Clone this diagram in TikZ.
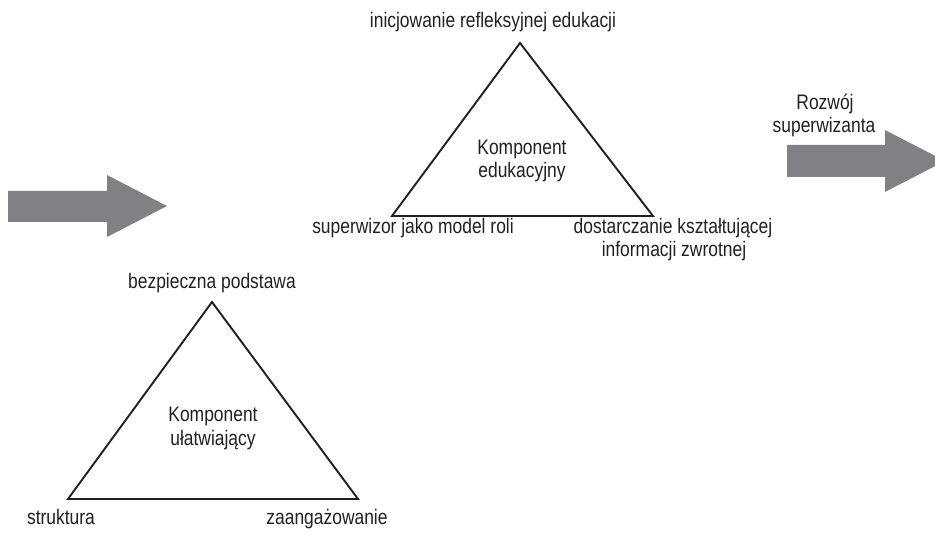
\documentclass[tikz,border=0pt]{standalone}
\usepackage{fontspec}
\setmainfont[FakeStretch=0.83]{Liberation Sans}
\definecolor{arrowgray}{RGB}{128,129,132}
\definecolor{txt}{RGB}{35,31,32}
\begin{document}
\begin{tikzpicture}[x=1pt,y=-1pt,
  lbl/.style={anchor=base,inner sep=0pt,font=\fontsize{21}{24}\selectfont,text=txt,align=center},
  tri/.style={draw=txt,line width=1.9pt,line join=miter},
  bigarrow/.style={fill=arrowgray,draw=none}]
\useasboundingbox (0,0) rectangle (935,534);
\clip (0,0) rectangle (935,534);
% top triangle
\coordinate (ta) at (520,43);
\coordinate (tl) at (392,216);
\coordinate (tr) at (653,216);
\draw[tri] (ta) -- (tl) -- (tr) -- cycle;
\node[lbl] (t1) at (493,27.5) {inicjowanie refleksyjnej edukacji};
\node[lbl] (t2) at (522,155) {Komponent};
\node[lbl] (t3) at (522,178) {edukacyjny};
\node[lbl] (t4) at (413,234) {superwizor jako model roli};
\node[lbl] (t5) at (673,234) {dostarczanie kształtującej};
\node[lbl] (t6) at (674,257) {informacji zwrotnej};
% bottom triangle
\coordinate (ba) at (212,302);
\coordinate (bl) at (68,499);
\coordinate (br) at (358,499);
\draw[tri] (ba) -- (bl) -- (br) -- cycle;
\node[lbl] (b1) at (212,289) {bezpieczna podstawa};
\node[lbl] (b2) at (213,422) {Komponent};
\node[lbl] (b3) at (213,446) {ułatwiający};
\node[lbl] (b4) at (61,525) {struktura};
\node[lbl] (b5) at (327,525) {zaangażowanie};
% right label
\node[lbl] (r1) at (825,110) {Rozwój};
\node[lbl] (r2) at (824,133) {superwizanta};
% arrows
\fill[bigarrow] (8,191) -- (107,191) -- (107,175) -- (167,206) -- (107,237) -- (107,222) -- (8,222) -- cycle;
\fill[bigarrow] (787,145) -- (885,145) -- (885,130) -- (945,161) -- (885,192) -- (885,177) -- (787,177) -- cycle;
\end{tikzpicture}
\end{document}
